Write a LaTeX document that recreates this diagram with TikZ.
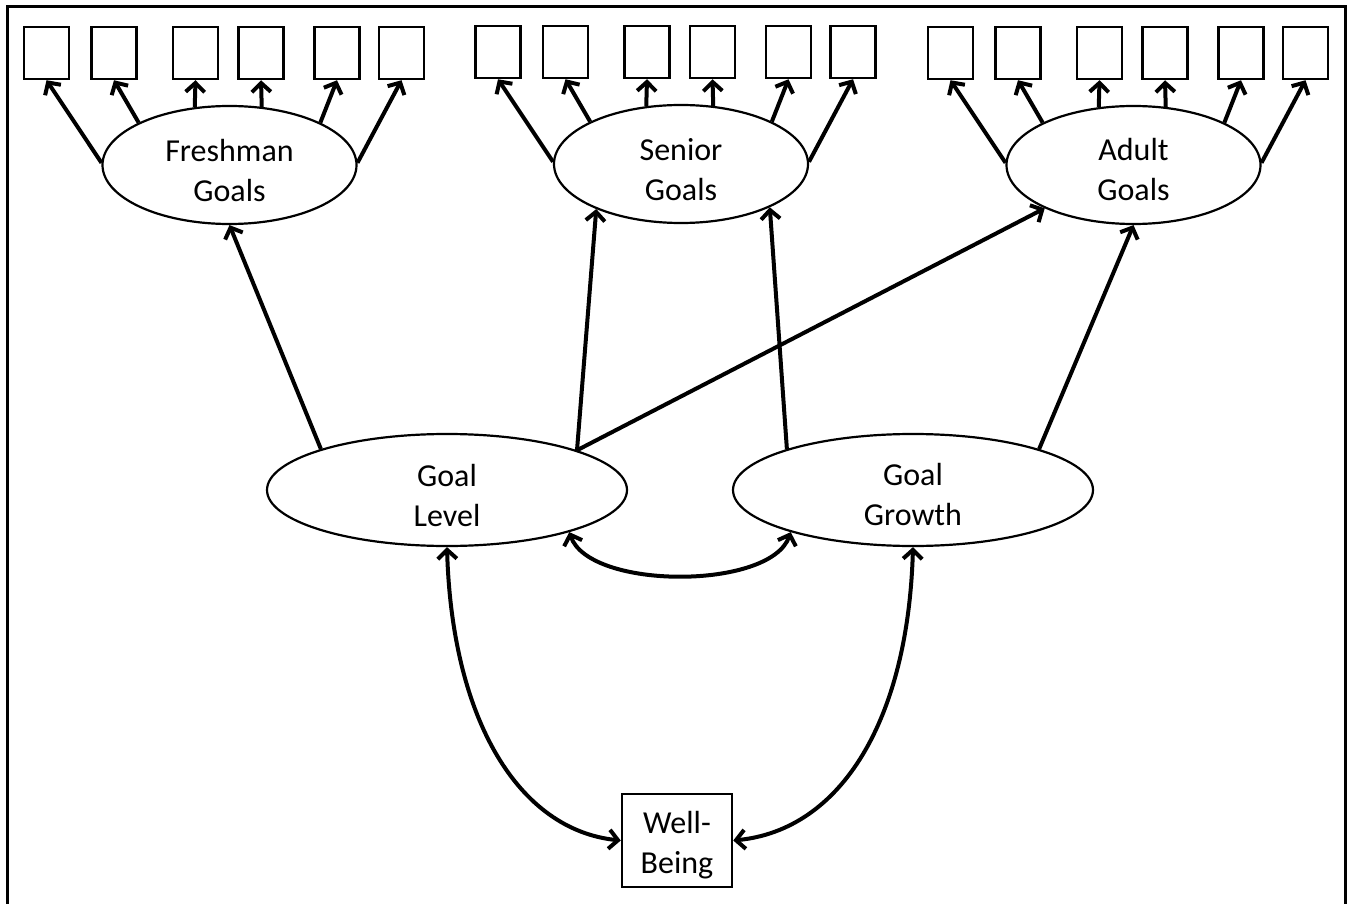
\documentclass[tikz,border=0pt]{standalone}
\usepackage{fontspec}
\setmainfont{Carlito}
\usetikzlibrary{shapes.geometric,arrows.meta,calc}
\begin{document}
\begin{tikzpicture}[x=1pt,y=-1pt,
  every node/.style={font=\fontsize{32}{40}\selectfont},
  latent/.style={ellipse,draw,line width=2.2pt,inner sep=0pt},
  smalllatent/.style={latent,minimum width=254pt,minimum height=118pt},
  biglatent/.style={latent,minimum width=360pt,minimum height=112pt},
  label/.style={align=center,inner sep=0pt},
  indic/.style={rectangle,draw,line width=2.5pt,minimum width=45pt,minimum height=52pt,inner sep=0pt},
  tip/.tip={Straight Barb[length=9pt,width=19pt,line width=4pt]},
  regarrow/.style={line width=4pt,-tip},
  covar/.style={line width=4pt,tip-tip},
]
\useasboundingbox (0,0) rectangle (1347,904);
\draw[line width=3pt] (7,904) -- (7,7) -- (1345,7) -- (1345,904);

\node[smalllatent] (F) at (229.5,165) {};
\node[smalllatent] (S) at (681,164) {};
\node[smalllatent] (A) at (1133.5,165) {};
\node[biglatent] (GL) at (447,490) {};
\node[biglatent] (GG) at (913,490) {};
\node[label] (Ft) at ($(F.center)+(0,6)$) {Freshman\\Goals};
\node[label] (St) at ($(S.center)+(0,6)$) {Senior\\Goals};
\node[label] (At) at ($(A.center)+(0,5)$) {Adult\\Goals};
\node[label] (GLt) at ($(GL.center)+(0,5)$) {Goal\\Level};
\node[label] (GGt) at ($(GG.center)+(0,5)$) {Goal\\Growth};
\node[draw,line width=2.5pt,minimum width=110pt,minimum height=93pt,inner sep=0pt] (WB) at (677,840.5) {};
\node[label] (WBt) at ($(WB.center)+(0,5)$) {Well-\\Being};

\foreach \e in {F,S,A}{
  \foreach \dx/\ang [count=\i] in {-183/179,-115.5/155,-34/121,31.5/61,107.5/25,172/1}{
    \node[indic] (\e\i) at ($(\e.center)+(\dx,-112)$) {};
    \draw[regarrow] (\e.\ang) -- (\e\i.south);
  }
}

\draw[regarrow] (GL.162.5) -- (F.south);
\draw[regarrow] (GL.17.6) -- (S.-152.7);
\draw[regarrow] (GL.17.6) -- (A.-154.3);
\draw[regarrow] (GG.162) -- (S.-26.6);
\draw[regarrow] (GG.18) -- (A.south);

\draw[covar] (GL.-19) .. controls +(20,58) and +(-20,58) .. (GG.-161);
\draw[covar] (GL.south) .. controls +(5,173) and +(-102,-10.5) .. (WB.west);
\draw[covar] (GG.south) .. controls +(-5,173) and +(108,-10.5) .. (WB.east);
\end{tikzpicture}
\end{document}
